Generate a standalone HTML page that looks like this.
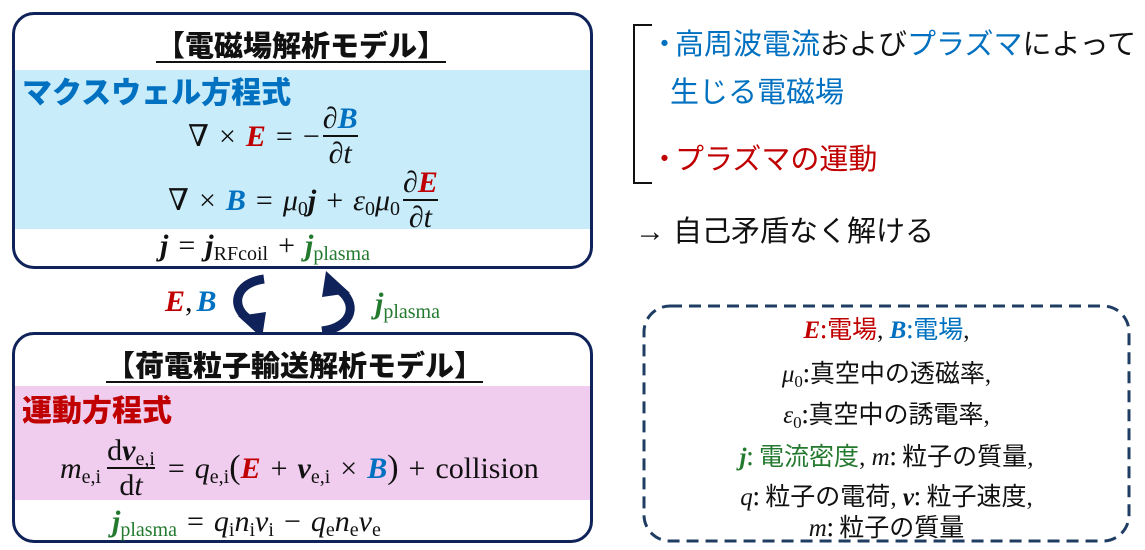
<!DOCTYPE html>
<html><head><meta charset="utf-8">
<style>
*{margin:0;padding:0;box-sizing:border-box}
body{width:1145px;height:550px;background:#fff;position:relative;overflow:hidden;font-family:"Liberation Sans","Noto Sans CJK JP",sans-serif}
.abs{position:absolute}
.box{position:absolute;border:3px solid #0f2259;border-radius:22px;background:#fff;overflow:hidden}
.band{position:absolute;left:0;right:0}
.title{position:absolute;font-weight:900;font-size:29px;color:#111;text-decoration:underline;text-decoration-thickness:2px;text-underline-offset:5px;white-space:nowrap;line-height:34px;letter-spacing:0px}
.eq{position:absolute;line-height:40px;white-space:nowrap;font-family:"Liberation Serif","DejaVu Serif",serif;font-size:30px;color:#111}
.i{font-style:italic}
.bi{font-style:italic;font-weight:bold}
.r{color:#c00000}.b{color:#0070c0}.g{color:#237a2f}
.frac{display:inline-flex;flex-direction:column;align-items:center;line-height:33px;margin:0 3px;vertical-align:middle;position:relative;top:-3px}
.frac .bar{height:2px;background:#111;align-self:stretch}
sub{font-size:20px;vertical-align:-5px;line-height:0}
.sp{display:inline-block;width:10px}
.jp{font-family:"Liberation Sans","Noto Sans CJK JP",sans-serif}
.txt{position:absolute;white-space:nowrap;font-size:29px;line-height:34px}
.leg{position:absolute;left:643px;width:487px;text-align:center;font-family:"Liberation Serif","Noto Sans CJK JP",serif;font-size:25px;line-height:28px;color:#111;white-space:nowrap}
.leg .jp{font-family:"Noto Sans CJK JP",sans-serif}
.leg sub{font-size:17px;vertical-align:-5px}
</style></head><body>

<!-- Top box -->
<div class="box" style="left:12px;top:12px;width:581px;height:257px">
  <div class="band" style="top:55px;height:159px;background:#c9ecfa"></div>
</div>
<div class="title" style="left:156px;top:30px">【電磁場解析モデル】</div>
<div class="abs" style="left:22px;top:77px;font-weight:900;font-size:30px;color:#0070c0;line-height:34px;white-space:nowrap">マクスウェル方程式</div>

<div class="eq" style="left:188px;top:105px">∇<span class="sp"></span>×<span class="sp"></span><span class="bi r">E</span><span class="sp"></span>=<span class="sp"></span>−<span class="frac"><span>∂<span class="bi b">B</span></span><span class="bar"></span><span class="i">∂t</span></span></div>
<div class="eq" style="left:168px;top:169px">∇<span class="sp"></span>×<span class="sp"></span><span class="bi b">B</span><span class="sp"></span>=<span class="sp"></span><span class="i">μ</span><sub>0</sub><span class="bi">j</span><span class="sp"></span>+<span class="sp"></span><span class="i">ε</span><sub>0</sub><span class="i">μ</span><sub>0</sub><span class="frac"><span>∂<span class="bi r">E</span></span><span class="bar"></span><span class="i">∂t</span></span></div>
<div class="eq" style="left:160px;top:226px"><span class="bi">j</span><span class="sp"></span>=<span class="sp"></span><span class="bi">j</span><sub>RFcoil</sub><span class="sp"></span>+<span class="sp"></span><span class="bi g">j</span><sub class="g">plasma</sub></div>

<!-- Arrows -->
<div class="eq" style="left:165px;top:282px"><span class="bi r">E</span>,<span class="bi b" style="margin-left:4px">B</span></div>
<svg class="abs" style="left:0;top:0" width="600" height="550">
  <path d="M264 279 C 234 283, 230 308, 250 320" fill="none" stroke="#0f2259" stroke-width="9"/>
  <polygon points="238,316 266,312 262,338" fill="#0f2259"/>
  <path d="M322 331 C 354 327, 358 302, 338 289" fill="none" stroke="#0f2259" stroke-width="9"/>
  <polygon points="350,293 322,297 326,271" fill="#0f2259"/>
</svg>
<div class="eq" style="left:375px;top:284px"><span class="bi g">j</span><sub class="g">plasma</sub></div>

<!-- Bottom box -->
<div class="box" style="left:12px;top:332px;width:581px;height:211px">
  <div class="band" style="top:51px;height:114px;background:#f0cdee"></div>
</div>
<div class="title" style="left:106px;top:350px">【荷電粒子輸送解析モデル】</div>
<div class="abs" style="left:22px;top:395px;font-weight:900;font-size:30px;color:#c00000;line-height:34px;white-space:nowrap">運動方程式</div>
<div class="eq" style="left:60px;top:437px"><span class="i">m</span><sub>e,i</sub><span class="frac" style="margin-left:6px"><span>d<span class="bi">v</span><sub>e,i</sub></span><span class="bar"></span><span>d<span class="i">t</span></span></span><span class="sp"></span>=<span class="sp"></span><span class="i">q</span><sub>e,i</sub><span style="font-size:34px">(</span><span class="bi r">E</span><span class="sp"></span>+<span class="sp"></span><span class="bi">v</span><sub>e,i</sub><span class="sp"></span>×<span class="sp"></span><span class="bi b">B</span><span style="font-size:34px">)</span><span class="sp"></span>+<span class="sp"></span>collision</div>
<div class="eq" style="left:112px;top:502px"><span class="bi g">j</span><sub class="g">plasma</sub><span class="sp"></span>=<span class="sp"></span><span class="i">q</span><sub>i</sub><span class="i">n</span><sub>i</sub><span class="i">v</span><sub>i</sub><span class="sp"></span>−<span class="sp"></span><span class="i">q</span><sub>e</sub><span class="i">n</span><sub>e</sub><span class="i">v</span><sub>e</sub></div>

<!-- Right text -->
<svg class="abs" style="left:0;top:0" width="1145" height="550">
  <path d="M652 25 L634 25 L634 183 L652 183" fill="none" stroke="#111" stroke-width="2"/>
  <rect x="644" y="306" width="485" height="235" rx="26" ry="26" fill="none" stroke="#1f3d63" stroke-width="3" stroke-dasharray="12,7"/>
</svg>
<div class="txt" style="left:650px;top:28px;color:#0070c0">・<span style="margin-left:-4px">高周波電流</span><span style="color:#111">および</span>プラズマ<span style="color:#111">によって</span></div>
<div class="txt" style="left:670px;top:76px;color:#0070c0">生じる電磁場</div>
<div class="txt" style="left:650px;top:143px;color:#c00000">・<span style="margin-left:-4px">プラズマの運動</span></div>
<div class="txt" style="left:635px;top:215px;color:#111"><span style="font-family:'Liberation Sans',sans-serif;font-size:30px">→</span>&nbsp;自己矛盾なく解ける</div>

<!-- Legend -->
<div class="leg" style="top:314px"><span class="bi r">E</span><span class="jp r">:電場</span>, <span class="bi b">B</span><span class="jp b">:電場</span>,</div>
<div class="leg" style="top:358px"><span class="i">μ</span><sub>0</sub><span class="jp">:真空中の透磁率</span>,</div>
<div class="leg" style="top:399px"><span class="i">ε</span><sub>0</sub><span class="jp">:真空中の誘電率</span>,</div>
<div class="leg" style="top:441px"><span class="bi g">j</span><span class="jp g">: 電流密度</span>, <span class="i">m</span><span class="jp">: 粒子の質量</span>,</div>
<div class="leg" style="top:481px"><span class="i">q</span><span class="jp">: 粒子の電荷</span>, <span class="bi">v</span><span class="jp">: 粒子速度</span>,</div>
<div class="leg" style="top:512px"><span class="i">m</span><span class="jp">: 粒子の質量</span></div>

</body></html>
